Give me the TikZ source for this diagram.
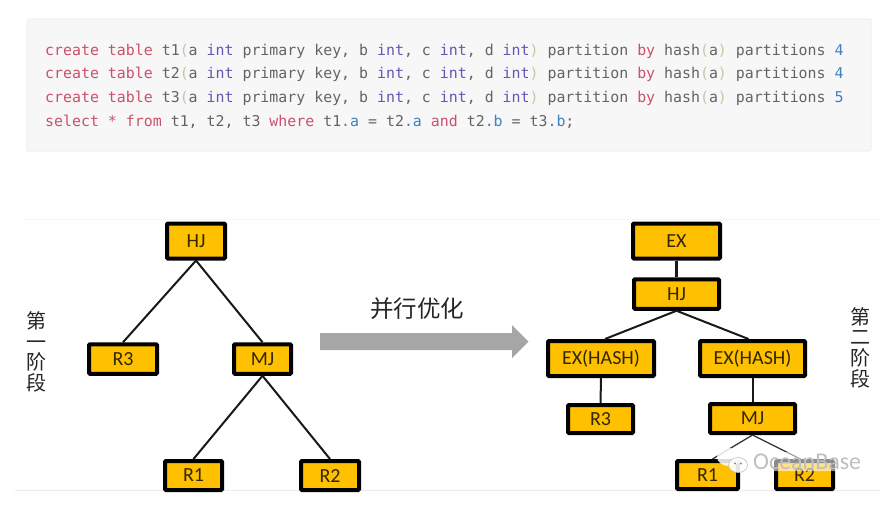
\documentclass[tikz,border=0pt]{standalone}
\usepackage{fontspec}
\setmainfont{Carlito}
\setmonofont{DejaVu Sans Mono}
\newfontfamily\cjkf{Noto Sans CJK SC}
\definecolor{kw}{HTML}{C9516B}
\definecolor{ty}{HTML}{6A55B5}
\definecolor{pl}{HTML}{646464}
\definecolor{nm}{HTML}{3F80C0}
\definecolor{pa}{HTML}{C9C5A8}
\definecolor{orange1}{HTML}{FFC000}
\newcommand{\K}[1]{\textcolor{kw}{#1}}
\newcommand{\Ty}[1]{\textcolor{ty}{#1}}
\newcommand{\Nm}[1]{\textcolor{nm}{#1}}
\newcommand{\Pa}[1]{\textcolor{pa}{#1}}
\newcommand{\tline}[2]{\K{create table} t#1\Pa{(}a \Ty{int} primary key, b \Ty{int}, c \Ty{int}, d \Ty{int}\Pa{)} partition \K{by} hash\Pa{(}a\Pa{)} partitions \Nm{#2}}
\tikzset{
  opbox/.style={draw=black,line width=4pt,fill=orange1,rounded corners=1pt,inner sep=0pt,
    font=\fontsize{20}{20}\selectfont,text=black!80!orange1},
  link/.style={draw=black!90,line width=2pt},
  thin link/.style={draw=black!80,line width=1.3pt},
  codeline/.style={anchor=base west,inner sep=0pt,text=pl,font=\ttfamily\fontsize{14.9}{16}\selectfont},
  sidetext/.style={inner sep=0pt,align=center,font=\cjkf\fontsize{20}{20.6}\selectfont,text=black!85},
}
\begin{document}
\begin{tikzpicture}[x=1pt,y=-1pt]
\useasboundingbox (0,0) rectangle (888,507);
\fill[white] (0,0) rectangle (888,507);
% code panel
\filldraw[fill=black!3,draw=black!8,line width=.8pt,rounded corners=2pt] (27,19) rectangle (871,151);
\node[codeline] (l1) at (45,55) {\tline{1}{4}};
\node[codeline] (l2) at (45,78.7) {\tline{2}{4}};
\node[codeline] (l3) at (45,102.4) {\tline{3}{5}};
\node[codeline] (l4) at (45,126) {\K{select} \K{*} \K{from} t1, t2, t3 \K{where} t1\Nm{.a} = t2\Nm{.a} \K{and} t2\Nm{.b} = t3\Nm{.b};};
% faint rules
\draw[black!4,line width=1pt] (25,219) -- (880,219);
\draw[black!8,line width=1pt] (15,490.5) -- (880,490.5);
% left tree
\node[opbox,minimum width=58pt,minimum height=35pt] (hj) at (196,241) {HJ};
\node[opbox,minimum width=68pt,minimum height=29.5pt] (r3) at (123,359) {R3};
\node[opbox,minimum width=57pt,minimum height=29.5pt] (mj) at (262.5,359) {MJ};
\node[opbox,minimum width=57pt,minimum height=29pt] (r1) at (193.5,475.5) {R1};
\node[opbox,minimum width=58pt,minimum height=29pt] (r2) at (330,475.5) {R2};
\draw[link] (hj.south) -- (r3.north);
\draw[link] (hj.south) -- (mj.north);
\draw[link] (mj.south) -- (r1.north);
\draw[link] (mj.south) -- (r2.north);
% right tree
\node[opbox,minimum width=87pt,minimum height=35pt] (ex) at (676.5,241) {EX};
\node[opbox,minimum width=85pt,minimum height=29.5pt] (hj2) at (676.5,294) {HJ};
\node[opbox,minimum width=106pt,minimum height=35pt] (eh1) at (601,358.5) {EX(HASH)};
\node[opbox,minimum width=105pt,minimum height=35pt] (eh2) at (752.5,358.5) {EX(HASH)};
\node[opbox,minimum width=65pt,minimum height=28pt] (r32) at (600.5,419) {R3};
\node[opbox,minimum width=85pt,minimum height=29pt] (mj2) at (752.5,418.5) {MJ};
\node[opbox,minimum width=61pt,minimum height=28pt] (r12) at (707.5,475) {R1};
\node[opbox,minimum width=57pt,minimum height=28pt] (r22) at (804.5,475) {R2};
\draw[link,line width=3.5pt] (ex.south) -- (hj2.north);
\draw[link] (hj2.south) -- ([xshift=4pt]eh1.north);
\draw[link] (hj2.south) -- ([xshift=-4pt]eh2.north);
\draw[link] (eh1.south) -- (r32.north);
\draw[link] (eh2.south) -- (mj2.north);
\draw[thin link] (mj2.south) -- ([xshift=5pt]r12.north);
\draw[thin link] (mj2.south) -- ([xshift=-4pt]r22.north);
% arrow
\fill[black!35] (320,333) -- (512,333) -- (512,325) -- (528.5,341.5) -- (512,358) -- (512,350) -- (320,350) -- cycle;
\node[inner sep=0pt,font=\cjkf\fontsize{23.5}{24}\selectfont,text=black!85] (par) at (417,309) {并行优化};
% side labels
\node[sidetext] (a) at (36,352) {第\\一\\阶\\段};
\node[sidetext] (b) at (860,347.5) {第\\二\\阶\\段};
% watermark
\fill[white,opacity=.55,rounded corners=4pt] (750,452) rectangle (866,471);
\fill[white,opacity=.85] (729,457) ellipse (12pt and 9pt);
\fill[white,opacity=.9,draw=black!25,line width=.7pt] (738,465) ellipse (9.5pt and 7.5pt);
\fill[black!45] (735,463.5) circle (1.1pt) (741,463.5) circle (1.1pt);
\node[inner sep=0pt,anchor=west,font=\fontsize{24}{24}\selectfont,text=black!25] (wm) at (753,461.5) {OceanBase};
\end{tikzpicture}
\end{document}
